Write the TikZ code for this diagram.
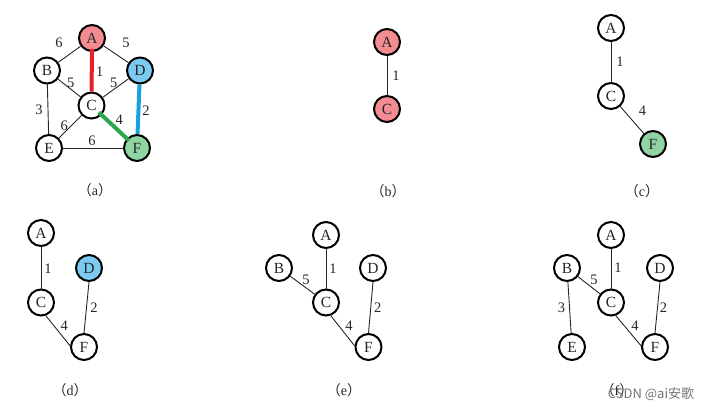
\documentclass[tikz,border=0pt]{standalone}
\usepackage{fontspec}
\setmainfont{Liberation Serif}
\newfontfamily\cjk{Noto Sans CJK SC}
\definecolor{vxred}{HTML}{F28C91}
\definecolor{vxgreen}{HTML}{8FD5A3}
\definecolor{vxblue}{HTML}{7BCBF0}
\definecolor{pathred}{HTML}{E6212A}
\definecolor{pathblue}{HTML}{1A9FE0}
\definecolor{pathgreen}{HTML}{2BA64A}

\begin{document}
\begin{tikzpicture}[
    x=1pt, y=-1pt,
    vertex/.style={circle, draw=black, line width=2pt, fill=white, minimum size=26pt, inner sep=0pt, font=\fontsize{15.5}{15.5}\selectfont, text=black!85},
    link/.style={draw, line width=0.9pt, color=black!85},
    chosen/.style={draw, line width=4pt},
    weight/.style={inner sep=0pt, font=\fontsize{14.5}{14.5}\selectfont, text=black!85},
    panel/.style={inner sep=0pt, font=\fontsize{14}{14}\selectfont, text=black!85},
    mark text/.style={inner sep=0pt, font=\cjk\fontsize{13}{13}\selectfont, text=black!55}
]
\useasboundingbox (0,0) rectangle (711,409);
% (a)
\node [vertex, fill=vxred] (aA) at (92,38) {A};
\node [vertex] (aB) at (47,70.5) {B};
\node [vertex, fill=vxblue] (aD) at (140,70.5) {D};
\node [vertex] (aC) at (91.5,105.5) {C};
\node [vertex] (aE) at (49,148) {E};
\node [vertex, fill=vxgreen] (aF) at (137,148) {F};
\path [link] (aA) -- node [weight, shift={(-10.5,-11)}] {6} (aB);
\path [link] (aA) -- node [weight, shift={(10,-11)}] {5} (aD);
\path [link] (aB) -- node [weight, shift={(1.5,-5.5)}] {5} (aC);
\path [link] (aC) -- node [weight, shift={(-2,-5)}] {5} (aD);
\path [link] (aB) -- node [weight, shift={(-9,1)}] {3} (aE);
\path [link] (aC) -- node [weight, shift={(-6,-1)}] {6} (aE);
\path [link] (aE) -- node [weight, shift={(-1,-7)}] {6} (aF);
\path [chosen, pathred, shorten <=-3pt] (aA) -- node [weight, shift={(8,0)}] {1} (aC);
\path [chosen, pathblue] (aD) -- node [weight, shift={(7.5,1)}] {2} (aF);
\path [chosen, pathgreen, shorten <=-4pt, shorten >=-3pt] (aC) -- node [weight, shift={(5,-7.5)}] {4} (aF);
\node [panel] (capa) at (95,190) {{\cjk （}a{\cjk ）}};
% (b)
\node [vertex, fill=vxred] (bA) at (387,42) {A};
\node [vertex, fill=vxred] (bC) at (387,109) {C};
\path [link] (bA) -- node [weight, shift={(9,0.5)}] {1} (bC);
\node [panel] (capb) at (388,191) {{\cjk （}b{\cjk ）}};
% (c)
\node [vertex] (cA) at (611,28) {A};
\node [vertex] (cC) at (611,96) {C};
\node [vertex, fill=vxgreen] (cF) at (653,144) {F};
\path [link] (cA) -- node [weight, shift={(9,0)}] {1} (cC);
\path [link] (cC) -- node [weight, shift={(10.5,-9)}] {4} (cF);
\node [panel] (capc) at (642,191) {{\cjk （}c{\cjk ）}};
% (d)
\node [vertex] (dA) at (41,233) {A};
\node [vertex, fill=vxblue] (dD) at (89,268) {D};
\node [vertex] (dC) at (41,302.5) {C};
\node [vertex] (dF) at (84,347) {F};
\path [link] (dA) -- node [weight, shift={(7,1)}] {1} (dC);
\path [link] (dD.south) -- node [weight, shift={(7.5,0.5)}] {2} (dF.north);
\path [link] (dC.-70) -- node [weight, shift={(6.3,-5)}] {4} (dF.175);
\node [panel] (capd) at (70,390) {{\cjk （}d{\cjk ）}};
% (e)
\node [vertex] (eA) at (326,235) {A};
\node [vertex] (eB) at (279,268) {B};
\node [vertex] (eD) at (373,268) {D};
\node [vertex] (eC) at (326,302.5) {C};
\node [vertex] (eF) at (368.5,347) {F};
\path [link] (eA) -- node [weight, shift={(7,-0.5)}] {1} (eC);
\path [link] (eB) -- node [weight, shift={(3.5,-5)}] {5} (eC);
\path [link] (eD.south) -- node [weight, shift={(7,0.5)}] {2} (eF.north);
\path [link] (eC.-70) -- node [weight, shift={(6.4,-4.7)}] {4} (eF.175);
\node [panel] (cape) at (344,390) {{\cjk （}e{\cjk ）}};
% (f)
\node [vertex] (fA) at (611,235) {A};
\node [vertex] (fB) at (567,268) {B};
\node [vertex] (fD) at (660,268) {D};
\node [vertex] (fC) at (611,302.5) {C};
\node [vertex] (fE) at (572,347) {E};
\node [vertex] (fF) at (655,347) {F};
\path [link] (fA) -- node [weight, shift={(7,-1)}] {1} (fC);
\path [link] (fB) -- node [weight, shift={(5,-5.5)}] {5} (fC);
\path [link] (fB) -- node [weight, shift={(-8,0.5)}] {3} (fE);
\path [link] (fD.south) -- node [weight, shift={(6,0.5)}] {2} (fF.north);
\path [link] (fC.-70) -- node [weight, shift={(6.5,-5)}] {4} (fF.175);
\node [panel] (capf) at (617,390) {{\cjk （}f{\cjk ）}};
\node [mark text] (stamp) at (651,394) {CSDN @ai安歌};
\end{tikzpicture}
\end{document}
